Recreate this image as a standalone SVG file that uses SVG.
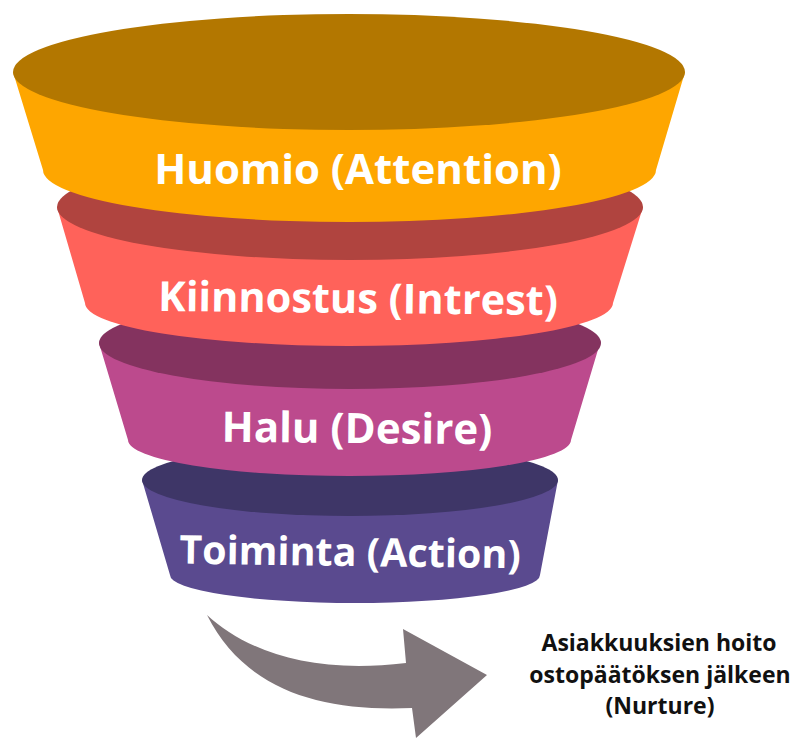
<svg xmlns="http://www.w3.org/2000/svg" width="793" height="740" viewBox="0 0 793 740">
<style>
.lbl{font-family:"Open Sans","Noto Sans","Liberation Sans",sans-serif;font-weight:700;font-size:42px;fill:#ffffff;text-anchor:middle}
.note{font-family:"Open Sans","Noto Sans","Liberation Sans",sans-serif;font-weight:700;font-size:23px;fill:#111111;text-anchor:middle}
</style>
<rect width="793" height="740" fill="#ffffff"/>
<g id="action">
<path d="M142,480 L170,575 A185,28 0 0 0 540,575 L558,480 Z" fill="#5A4A8F"/>
<ellipse cx="350" cy="480" rx="208" ry="36" fill="#3E3667"/>
<text class="lbl" x="350" y="566" style="font-size:39.5px" transform="rotate(0.8 350 556)">Toiminta (Action)</text>
</g>
<g id="desire">
<path d="M99,343 L128,440 A221.5,36 0 0 0 571,440 L600,343 Z" fill="#BC4A8D"/>
<ellipse cx="350" cy="343" rx="251" ry="46" fill="#84335F"/>
<text class="lbl" x="357" y="443" transform="rotate(0.5 357 433)">Halu (Desire)</text>
</g>
<g id="interest">
<path d="M57,207 L85,303 A264,43 0 0 0 613,303 L643,207 Z" fill="#FF625A"/>
<ellipse cx="350" cy="207" rx="293" ry="53" fill="#B0443F"/>
<text class="lbl" x="358" y="313" style="font-size:41.5px" transform="rotate(0.6 358 303)">Kiinnostus (Intrest)</text>
</g>
<g id="attention">
<path d="M13,72 L43,170 A306.5,52 0 0 0 656,170 L685,72 Z" fill="#FEA600"/>
<ellipse cx="349" cy="72" rx="336" ry="58" fill="#B37700"/>
<text class="lbl" x="358" y="184">Huomio (Attention)</text>
</g>
<g id="connectors">
<path d="M207,615 C245,650 310,675 406,663 L403,629 L487,675 L416,738 L412,708 C320,712 245,690 207,615 Z" fill="#80767A"/>
</g>
<g id="nurture">
<text class="note" x="659" y="651">Asiakkuuksien hoito</text>
<text class="note" x="660" y="683">ostopäätöksen jälkeen</text>
<text class="note" x="660" y="714">(Nurture)</text>
</g>
</svg>
